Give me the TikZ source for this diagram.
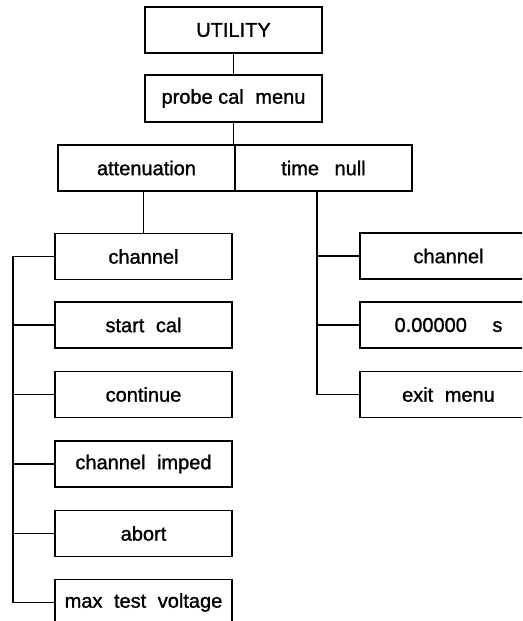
\documentclass[tikz,border=0pt]{standalone}
\usepackage{fontspec}
\setmainfont{Liberation Sans}
\newfontfamily\boxfont[FakeBold=1.2]{Liberation Sans}
\begin{document}
\begin{tikzpicture}[x=1pt,y=-1pt,
  menubox/.style={draw=black, line width=1.3pt, minimum width=177pt, minimum height=46pt, inner sep=0pt,
    font=\boxfont\fontsize{20}{23}\selectfont, text=black},
  link/.style={draw=black, line width=1.1pt}]
\useasboundingbox (0,0) rectangle (522,621);
\clip (0,0) rectangle (522,621);
\node[menubox] (util) at (233.5,30) {UTILITY};
\node[menubox, minimum height=47pt] (probe) at (233.5,98.5) {probe cal\hspace{0.3em} menu};
\node[menubox] (att) at (146.5,168) {attenuation};
\node[menubox] (tn) at (323.5,168) {time\hspace{0.5em} null};
\node[menubox] (lch) at (143.5,256.5) {channel};
\node[menubox] (lstart) at (143.5,325) {start\hspace{0.3em} cal};
\node[menubox] (lcont) at (143.5,394.5) {continue};
\node[menubox] (limp) at (143.5,464) {channel\hspace{0.3em} imped};
\node[menubox] (labort) at (143.5,533.5) {abort};
\node[menubox] (lmax) at (143.5,602.5) {max\hspace{0.3em} test\hspace{0.3em} voltage};
\node[menubox] (rch) at (448.5,256) {channel};
\node[menubox] (rval) at (448.5,325) {0.00000\hspace{1em} s};
\node[menubox] (rexit) at (448.5,394.5) {exit\hspace{0.3em} menu};
\coordinate (lbus) at (13,0);
\coordinate (rbus) at (317,0);
\draw[link] (util.south) -- (probe.north);
\draw[link] (probe.south) -- (probe.south |- att.north);
\draw[link] (lch.north |- att.south) -- (lch.north);
\draw[link] (lch.west) -- (lbus |- lch.west) -- (lbus |- lmax.west) -- (lmax.west);
\foreach \n in {lstart,lcont,limp,labort}
  \draw[link] (lbus |- \n.west) -- (\n.west);
\draw[link] (rbus |- tn.south) -- (rbus |- rexit.west) -- (rexit.west);
\foreach \n in {rch,rval}
  \draw[link] (rbus |- \n.west) -- (\n.west);
\end{tikzpicture}
\end{document}
